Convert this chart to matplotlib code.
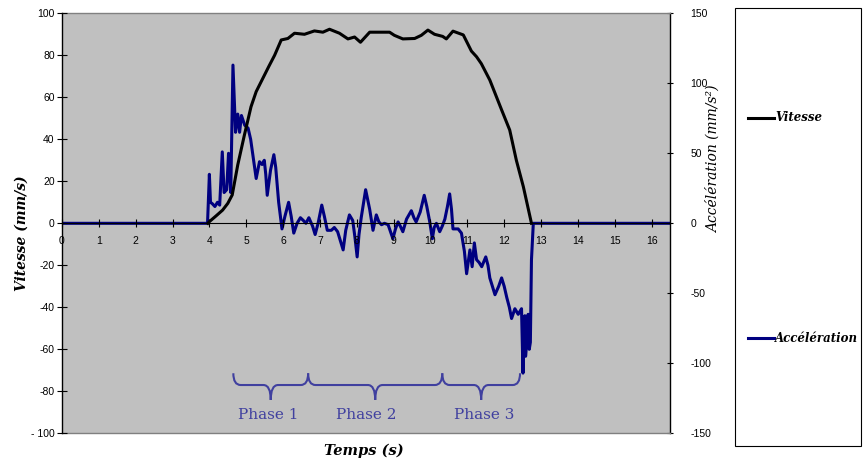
import matplotlib.pyplot as plt
from matplotlib.lines import Line2D
from matplotlib.patches import Rectangle, PathPatch
from matplotlib.path import Path

# Vitesse (mm/s) - axe gauche
t_vit = [3.96, 4.00, 4.18, 4.36, 4.50, 4.62, 4.77, 4.95, 5.13, 5.27, 5.45, 5.61,
         5.77, 5.95, 6.13, 6.31, 6.58, 6.85, 7.08, 7.26, 7.53, 7.76, 7.94, 8.10,
         8.35, 8.58, 8.89, 9.02, 9.25, 9.57, 9.75, 9.93, 10.11, 10.33, 10.43,
         10.61, 10.89, 11.11, 11.25, 11.38, 11.61, 11.93, 12.15, 12.33, 12.52, 12.74]
vitesse = [0, 0.8, 3.5, 6.3, 9.5, 13.5, 27.8, 42, 55.5, 62.7, 69, 74.6,
           80, 87.3, 88, 90.5, 90, 91.6, 91, 92.4, 90.5, 87.8, 88.7, 86.2,
           91, 91, 91, 89.5, 87.8, 88, 89.5, 92, 90, 89, 87.8,
           91.5, 89.7, 82, 79.3, 76, 68.2, 54, 44.4, 30, 17.4, 0]

# Accélération (mm/s2) - axe droit
t_acc = [0, 3.95, 4.00, 4.03, 4.08, 4.15, 4.22, 4.28, 4.35, 4.40, 4.47, 4.52,
         4.58, 4.64, 4.68, 4.71, 4.77, 4.82, 4.87, 4.96, 5.05, 5.12, 5.18, 5.27,
         5.36, 5.43, 5.49, 5.53, 5.57, 5.66, 5.75, 5.80, 5.88, 5.97, 6.05, 6.15,
         6.22, 6.29, 6.38, 6.47, 6.55, 6.62, 6.70, 6.80, 6.87, 6.95, 7.05, 7.12,
         7.20, 7.31, 7.39, 7.48, 7.55, 7.63, 7.70, 7.80, 7.89, 7.95, 8.01, 8.06,
         8.12, 8.24, 8.35, 8.44, 8.53, 8.60, 8.67, 8.75, 8.85, 8.98, 9.05, 9.12,
         9.18, 9.25, 9.35, 9.48, 9.55, 9.61, 9.72, 9.83, 9.90, 9.98, 10.05, 10.10,
         10.16, 10.25, 10.32, 10.39, 10.46, 10.52, 10.57, 10.61, 10.70, 10.75, 10.84,
         10.92, 10.98, 11.07, 11.13, 11.19, 11.25, 11.32, 11.39, 11.50, 11.56, 11.61,
         11.75, 11.85, 11.93, 12.00, 12.07, 12.14, 12.20, 12.29, 12.38, 12.47, 12.51,
         12.54, 12.56, 12.58, 12.60, 12.62, 12.65, 12.68, 12.71, 12.72, 12.74, 12.79, 16.5]
acceleration = [0, 0, 35, 15, 14, 12, 15, 13, 51, 22, 24, 50,
                22, 113, 85, 65, 78, 65, 77, 70, 68, 60, 49, 32,
                44, 42, 45, 35, 20, 38, 49, 40, 15, -4, 5, 15,
                5, -7, 0, 4, 2, 0, 4, -2, -8, 0, 13, 5,
                -5, -5, -3, -6, -12, -19, -5, 6, 2, -10, -24, -8,
                4, 24, 10, -5, 6, 1, -1, 0, -1, -11, -4, 1,
                -2, -6, 3, 9, 4, 1, 8, 20, 12, 1, -11, -3,
                0, -6, -2, 3, 12, 21, 10, -4, -4, -4, -7,
                -20, -36, -19, -31, -14, -26, -28, -31, -24, -30, -39,
                -51, -45, -39, -45, -53, -60, -68, -61, -65, -61, -107,
                -70, -66, -95, -89, -70, -65, -90, -85, -66, -26, 0, 0]

x_ticks = list(range(17))
vit_ticks = list(range(-100, 101, 20))
vit_labels = ['- 100', '-80', '-60', '-40', '-20', '0', '20', '40', '60', '80', '100']
acc_ticks = [-150, -100, -50, 0, 50, 100, 150]
acc_labels = ['-150', '-100', '-50', '0', '50', '100', '150']

phase_names = ['Phase 1', 'Phase 2', 'Phase 3']
phase_bounds = [4.65, 6.68, 10.32, 12.43]
phase_text_x = [5.61, 8.26, 11.47]

NAVY = '#000080'
BRACE = '#40409f'
TICK_FONT = 'Liberation Sans'
SERIF = 'DejaVu Serif'


def draw_brace(ax, x0, x1, y_top, y_mid, y_tip, dx, color):
    """Accolade orientée vers le bas entre x0 et x1."""
    xm = (x0 + x1) / 2
    verts = [(x0, y_top), (x0, y_mid), (x0 + dx, y_mid),
             (xm - dx, y_mid),
             (xm, y_mid), (xm, y_tip),
             (xm, y_mid), (xm + dx, y_mid),
             (x1 - dx, y_mid),
             (x1, y_mid), (x1, y_top)]
    codes = [Path.MOVETO, Path.CURVE3, Path.CURVE3,
             Path.LINETO,
             Path.CURVE3, Path.CURVE3,
             Path.CURVE3, Path.CURVE3,
             Path.LINETO,
             Path.CURVE3, Path.CURVE3]
    patch = PathPatch(Path(verts, codes), facecolor='none', edgecolor=color,
                      linewidth=1.5, zorder=5)
    ax.add_patch(patch)


fig = plt.figure(figsize=(8.63, 4.63), dpi=100)
ax = fig.add_axes([0.0718, 0.0641, 0.7046, 0.9072])
ax2 = ax.twinx()

# ax (vitesse) au-dessus, fond gris porté par ax2
ax.set_zorder(2)
ax2.set_zorder(1)
ax.patch.set_visible(False)
ax2.patch.set_visible(True)
ax2.set_facecolor('#c0c0c0')

ax2.plot(t_acc, acceleration, color=NAVY, linewidth=2.2, solid_joinstyle='round')
ax.plot(t_vit, vitesse, color='black', linewidth=2.2, solid_joinstyle='round')

ax.set_xlim(0, 16.5)
ax.set_ylim(-100, 100)
ax2.set_ylim(-150, 150)

# axes
ax.spines['bottom'].set_position(('data', 0))
ax.spines['bottom'].set_linewidth(0.8)
ax.spines['left'].set_linewidth(1.0)
ax.spines['top'].set_visible(False)
ax.spines['right'].set_visible(False)
ax2.spines['left'].set_visible(False)
ax2.spines['right'].set_linewidth(1.0)
for side in ['top', 'bottom']:
    ax2.spines[side].set_color('#808080')
    ax2.spines[side].set_linewidth(1.0)

ax.set_xticks(x_ticks)
ax.set_xticklabels([str(v) for v in x_ticks], fontfamily=TICK_FONT, fontsize=7.5)
ax.set_yticks(vit_ticks)
ax.set_yticklabels(vit_labels, fontfamily=TICK_FONT, fontsize=7.5)
ax2.set_yticks(acc_ticks)
ax2.set_yticklabels(acc_labels, fontfamily=TICK_FONT, fontsize=7.5)

ax.tick_params(axis='x', direction='inout', length=6, width=0.8, pad=6)
ax.tick_params(axis='y', direction='inout', length=6.5, width=0.8, pad=2)
ax2.tick_params(axis='y', direction='inout', length=5, width=0.8, pad=12)
for lab in ax2.get_yticklabels():
    lab.set_horizontalalignment('left')

# accolades et phases
for i, name in enumerate(phase_names):
    draw_brace(ax, phase_bounds[i], phase_bounds[i + 1],
               -71.4, -77, -84.1, 0.2, BRACE)
    ax.text(phase_text_x[i], -91.3, name, color=BRACE, fontsize=11,
            fontfamily=SERIF, ha='center', va='center', zorder=6)

# titres des axes
fig.text(22 / 863, 1 - 233 / 463, 'Vitesse (mm/s)', rotation=90,
         fontfamily=SERIF, fontweight='bold', fontstyle='italic',
         fontsize=10, ha='center', va='center')
fig.text(714 / 863, 1 - 159 / 463, 'Accélération (mm/s²)', rotation=90,
         fontfamily=SERIF, fontstyle='italic', fontsize=10,
         ha='center', va='center')
fig.text(364 / 863, 1 - 451 / 463, 'Temps (s)', fontfamily=SERIF,
         fontweight='bold', fontstyle='italic', fontsize=10.5,
         ha='center', va='center')

# légende dans un cadre à droite
fig.add_artist(Rectangle((735 / 863, 1 - 446 / 463), 126 / 863, 438 / 463,
                         transform=fig.transFigure, facecolor='white',
                         edgecolor='black', linewidth=0.8))
legend_items = [('Vitesse', 'black', 117.5), ('Accélération', NAVY, 338)]
for label, color, ypx in legend_items:
    y = 1 - ypx / 463
    fig.add_artist(Line2D([748 / 863, 774 / 863], [y, y], color=color,
                          linewidth=2.2, transform=fig.transFigure))
    fig.text(775 / 863, y, label, fontfamily=SERIF, fontweight='bold',
             fontstyle='italic', fontsize=8.5, ha='left', va='center')

fig.savefig('out.png', dpi=100)
